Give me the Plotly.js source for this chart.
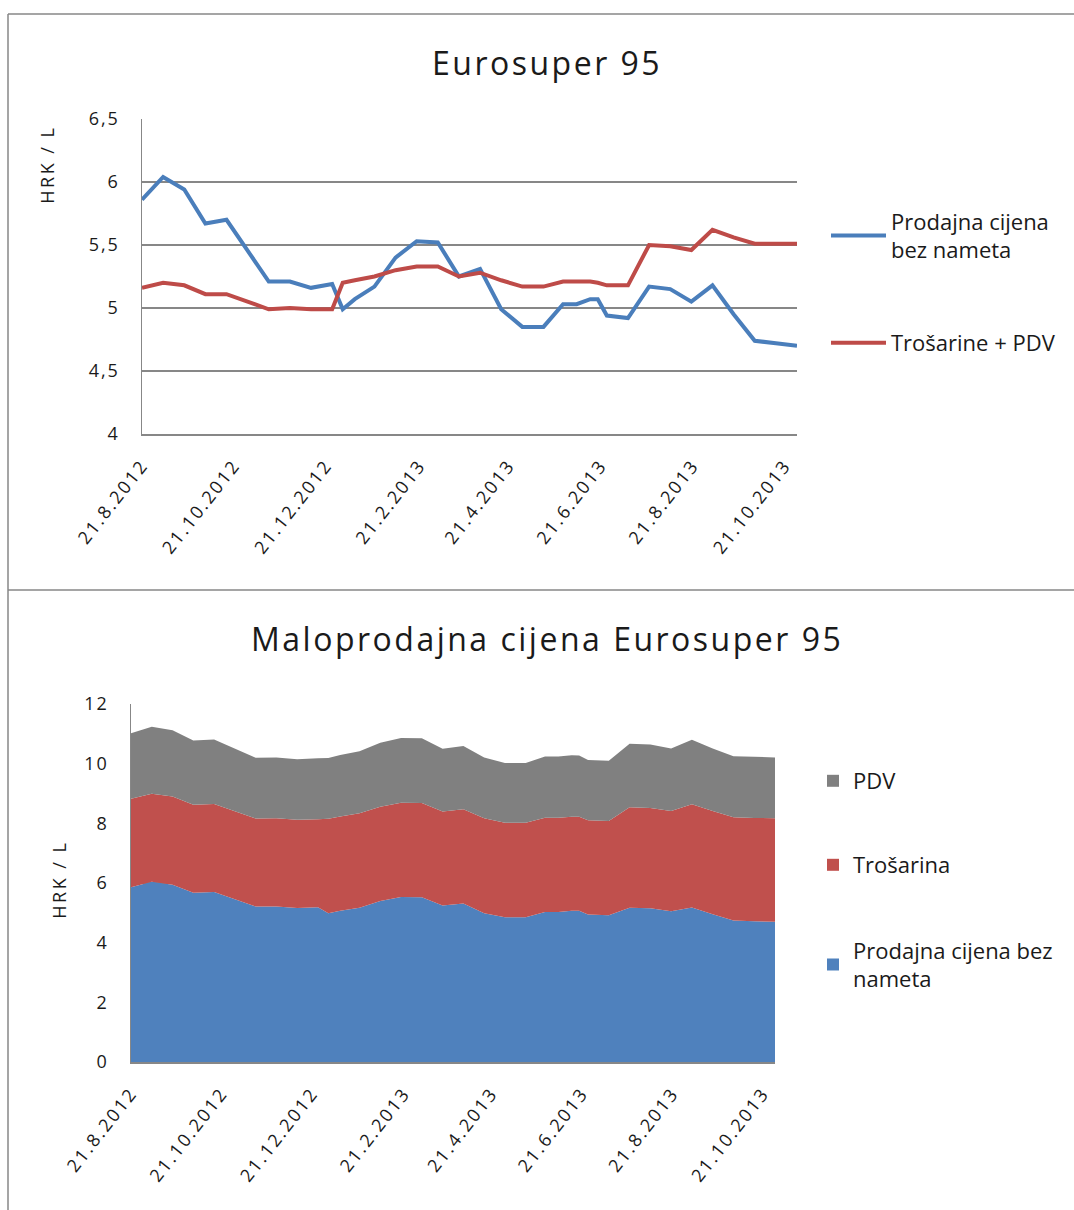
<!DOCTYPE html>
<html>
<head>
<meta charset="utf-8">
<script src="https://cdn.plot.ly/plotly-3.0.1.min.js"></script>
<style>
  html, body { margin: 0; padding: 0; background: #ffffff; }
  #chart { width: 1074px; height: 1210px; }
  #chart .xtick text, #chart .x2tick text { letter-spacing: 2.2px; }
  #chart .ytick text, #chart .y2tick text { letter-spacing: 2px; }
  #chart .annotation-text { letter-spacing: 2.5px; }
</style>
</head>
<body>
<div id="chart"></div>
<script>
// Dates of price changes
const dates = [
  '2012-08-21','2012-09-04','2012-09-18','2012-10-02','2012-10-16','2012-10-30',
  '2012-11-13','2012-11-27','2012-12-11','2012-12-25','2013-01-01','2013-01-09',
  '2013-01-22','2013-02-05','2013-02-19','2013-03-05','2013-03-19','2013-04-02',
  '2013-04-16','2013-04-30','2013-05-14','2013-05-27','2013-06-05','2013-06-14',
  '2013-06-19','2013-06-25','2013-07-09','2013-07-23','2013-08-06','2013-08-20',
  '2013-09-03','2013-09-17','2013-10-01','2013-10-15','2013-10-29'
];

// Top chart series (HRK / L)
const prodajnaCijena = [
  5.86, 6.04, 5.94, 5.67, 5.70, 5.46,
  5.21, 5.21, 5.16, 5.19, 4.99, 5.07,
  5.17, 5.40, 5.53, 5.52, 5.25, 5.31,
  4.99, 4.85, 4.85, 5.03, 5.03, 5.07,
  5.07, 4.94, 4.92, 5.17, 5.15, 5.05,
  5.18, 4.95, 4.74, 4.72, 4.70
];
const trosarinePDV = [
  5.16, 5.20, 5.18, 5.11, 5.11, 5.05,
  4.99, 5.00, 4.99, 4.99, 5.20, 5.22,
  5.25, 5.30, 5.33, 5.33, 5.25, 5.28,
  5.22, 5.17, 5.17, 5.21, 5.21, 5.21,
  5.20, 5.18, 5.18, 5.50, 5.49, 5.46,
  5.62, 5.56, 5.51, 5.51, 5.51
];

// Bottom chart stacked components (HRK / L)
const trosarina = [
  2.96, 2.95, 2.96, 2.95, 2.95, 2.95,
  2.95, 2.96, 2.96, 2.95, 3.16, 3.16,
  3.17, 3.16, 3.16, 3.16, 3.15, 3.16,
  3.18, 3.17, 3.17, 3.16, 3.16, 3.15,
  3.15, 3.16, 3.16, 3.37, 3.36, 3.36,
  3.46, 3.46, 3.46, 3.46, 3.47
];
const pdv = [
  2.20, 2.25, 2.22, 2.16, 2.16, 2.10,
  2.04, 2.04, 2.03, 2.04, 2.04, 2.06,
  2.08, 2.14, 2.17, 2.17, 2.10, 2.12,
  2.04, 2.00, 2.00, 2.05, 2.05, 2.06,
  2.05, 2.02, 2.02, 2.13, 2.13, 2.10,
  2.16, 2.10, 2.05, 2.05, 2.04
];

const titleTop = 'Eurosuper 95';
const titleBottom = 'Maloprodajna cijena Eurosuper 95';
const yTitle = 'HRK / L';
const nameBlueTop = 'Prodajna cijena<br>bez nameta';
const nameRedTop = 'Trošarine + PDV';
const namePDV = 'PDV';
const nameTros = 'Trošarina';
const nameBlueBottom = 'Prodajna cijena bez<br>nameta';

const COL_BLUE_LINE = '#4A7EBB', COL_RED_LINE = '#BE4B48';
const COL_BLUE = '#4F81BD', COL_RED = '#C0504D', COL_GRAY = '#808080';

const W = 1074, H = 1210;
const px = v => v / W;
const py = v => 1 - v / H;

const FONT = '"Open Sans", Lato, "DejaVu Sans", sans-serif';
const TXT = '#1a1a1a';
const GRID = '#878787';

const traces = [
  {
    x: dates, y: prodajnaCijena, type: 'scatter', mode: 'lines',
    name: nameBlueTop, line: {color: COL_BLUE_LINE, width: 4},
    xaxis: 'x', yaxis: 'y', legend: 'legend'
  },
  {
    x: dates, y: trosarinePDV, type: 'scatter', mode: 'lines',
    name: nameRedTop, line: {color: COL_RED_LINE, width: 4},
    xaxis: 'x', yaxis: 'y', legend: 'legend2'
  },
  {
    x: dates, y: prodajnaCijena, type: 'scatter', mode: 'lines',
    name: nameBlueBottom, stackgroup: 'one', line: {width: 0, color: COL_BLUE},
    fillcolor: COL_BLUE, xaxis: 'x2', yaxis: 'y2', showlegend: false
  },
  {
    x: dates, y: trosarina, type: 'scatter', mode: 'lines',
    name: nameTros, stackgroup: 'one', line: {width: 0, color: COL_RED},
    fillcolor: COL_RED, xaxis: 'x2', yaxis: 'y2', showlegend: false
  },
  {
    x: dates, y: pdv, type: 'scatter', mode: 'lines',
    name: namePDV, stackgroup: 'one', line: {width: 0, color: COL_GRAY},
    fillcolor: COL_GRAY, xaxis: 'x2', yaxis: 'y2', showlegend: false
  },
  // legend keys (square swatches) for the stacked areas
  {x: [null], y: [null], type: 'scatter', mode: 'markers', name: namePDV,
   marker: {symbol: 'square', size: 12, color: COL_GRAY}, xaxis: 'x2', yaxis: 'y2', legend: 'legend3'},
  {x: [null], y: [null], type: 'scatter', mode: 'markers', name: nameTros,
   marker: {symbol: 'square', size: 12, color: COL_RED}, xaxis: 'x2', yaxis: 'y2', legend: 'legend4'},
  {x: [null], y: [null], type: 'scatter', mode: 'markers', name: nameBlueBottom,
   marker: {symbol: 'square', size: 12, color: COL_BLUE}, xaxis: 'x2', yaxis: 'y2', legend: 'legend5'}
];

const xTickFont = {family: FONT, size: 18, color: TXT};
const yTickFont = {family: FONT, size: 18, color: TXT};
const legFont = {family: FONT, size: 22, color: TXT};

const xCommon = {
  type: 'date',
  range: ['2012-08-21', '2013-10-29'],
  tick0: '2012-08-21',
  dtick: 'M2',
  tickformat: '%-d.%-m.%Y',
  tickangle: -52,
  tickfont: xTickFont,
  showgrid: false,
  showline: true,
  linecolor: GRID,
  linewidth: 1.5,
  ticks: 'outside',
  ticklen: 12,
  tickcolor: 'rgba(0,0,0,0)',
  zeroline: false,
  fixedrange: true
};

const yCommon = {
  showgrid: true, gridcolor: GRID, gridwidth: 1.5,
  showline: true, linecolor: GRID, linewidth: 1.5,
  ticks: 'outside', ticklen: 17, tickcolor: 'rgba(0,0,0,0)',
  tickfont: yTickFont, zeroline: false, fixedrange: true
};

const legendBase = {
  bgcolor: 'rgba(0,0,0,0)',
  font: legFont,
  xanchor: 'left',
  yanchor: 'middle',
  tracegroupgap: 0
};

const layout = {
  width: W, height: H,
  margin: {l: 0, r: 0, t: 0, b: 0},
  paper_bgcolor: '#ffffff',
  plot_bgcolor: '#ffffff',
  separators: ',.',
  font: {family: FONT, color: TXT},
  showlegend: true,
  xaxis: Object.assign({}, xCommon, {domain: [px(142), px(797)], anchor: 'y'}),
  yaxis: Object.assign({}, yCommon, {
    domain: [py(434), py(119)], anchor: 'x',
    range: [4, 6.5], dtick: 0.5, tick0: 4
  }),
  xaxis2: Object.assign({}, xCommon, {domain: [px(131), px(775)], anchor: 'y2'}),
  yaxis2: Object.assign({}, yCommon, {
    domain: [py(1062), py(704)], anchor: 'x2',
    range: [0, 12], dtick: 2, tick0: 0
  }),
  legend: Object.assign({}, legendBase, {x: px(826), y: py(236), itemwidth: 55}),
  legend2: Object.assign({}, legendBase, {x: px(826), y: py(343), itemwidth: 55}),
  legend3: Object.assign({}, legendBase, {x: px(813), y: py(781), itemwidth: 30}),
  legend4: Object.assign({}, legendBase, {x: px(813), y: py(865), itemwidth: 30}),
  legend5: Object.assign({}, legendBase, {x: px(813), y: py(965), itemwidth: 30}),
  annotations: [
    {text: titleTop, xref: 'paper', yref: 'paper', x: px(547), y: py(63),
     xanchor: 'center', yanchor: 'middle', showarrow: false,
     font: {family: FONT, size: 32, color: TXT}},
    {text: titleBottom, xref: 'paper', yref: 'paper', x: px(547), y: py(638),
     xanchor: 'center', yanchor: 'middle', showarrow: false,
     font: {family: FONT, size: 32, color: TXT}},
    {text: yTitle, xref: 'paper', yref: 'paper', x: px(47), y: py(165),
     xanchor: 'center', yanchor: 'middle', showarrow: false, textangle: -90,
     font: {family: FONT, size: 18, color: TXT}},
    {text: yTitle, xref: 'paper', yref: 'paper', x: px(59), y: py(880),
     xanchor: 'center', yanchor: 'middle', showarrow: false, textangle: -90,
     font: {family: FONT, size: 18, color: TXT}}
  ],
  shapes: [
    {type: 'line', xref: 'paper', yref: 'paper', x0: px(8), x1: 1, y0: py(14), y1: py(14),
     line: {color: GRID, width: 1.5}},
    {type: 'line', xref: 'paper', yref: 'paper', x0: px(8), x1: px(8), y0: py(14), y1: 0,
     line: {color: GRID, width: 1.5}},
    {type: 'line', xref: 'paper', yref: 'paper', x0: px(8), x1: 1, y0: py(590), y1: py(590),
     line: {color: GRID, width: 1.5}}
  ]
};

Plotly.newPlot('chart', traces, layout, {displayModeBar: false, staticPlot: true});
</script>
</body>
</html>
